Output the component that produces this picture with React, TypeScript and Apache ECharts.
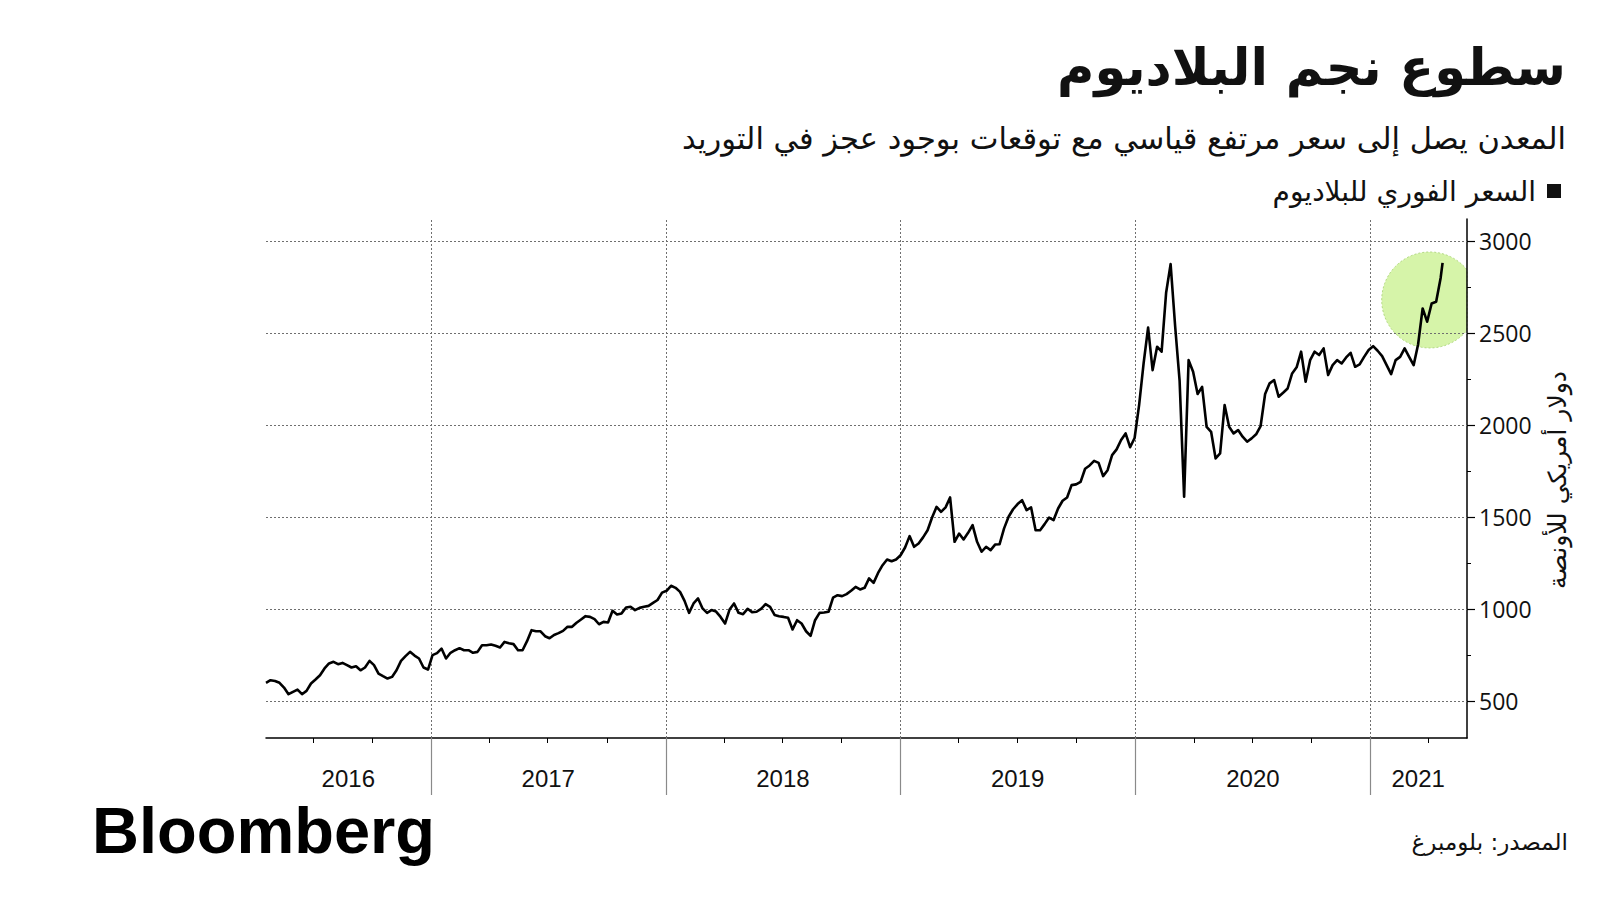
import React, { useEffect, useRef } from 'react';
import * as echarts from 'echarts';

// ---------- DATA (palladium spot price, USD/oz, weekly readings) ----------
const FIRST_WEEK = '2016-04-19';
const prices2016 = [600, 614, 610, 600, 574, 538, 551, 563, 538, 556, 596, 618, 641, 678, 705, 714, 701, 708, 696, 683, 690, 668, 683, 719, 696, 650, 636, 623, 632, 668, 719, 745, 768, 748, 732, 683, 672];
const prices2017 = [750, 761, 786, 732, 763, 777, 788, 777, 777, 763, 768, 804, 804, 808, 801, 792, 822, 815, 810, 777, 777, 826, 886, 880, 880, 853, 842, 860, 870, 882, 904, 904, 926, 944, 962, 958, 946, 918, 931, 928, 991, 971, 977, 1009, 1013, 995, 1007, 1013, 1018, 1034, 1050, 1090];
const prices2018 = [1100, 1127, 1116, 1094, 1045, 980, 1031, 1058, 1004, 980, 995, 987, 958, 922, 998, 1031, 980, 973, 1002, 984, 986, 1002, 1027, 1013, 969, 962, 958, 953, 890, 940, 922, 880, 855, 940, 980, 982, 986, 1063, 1076, 1071, 1082, 1100, 1121, 1107, 1116, 1167, 1143, 1197, 1239, 1270, 1260, 1270];
const prices2019 = [1293, 1335, 1397, 1339, 1357, 1390, 1429, 1498, 1556, 1529, 1553, 1607, 1366, 1411, 1379, 1415, 1457, 1366, 1312, 1339, 1321, 1351, 1353, 1439, 1502, 1543, 1571, 1592, 1538, 1553, 1429, 1429, 1462, 1498, 1484, 1547, 1589, 1607, 1674, 1678, 1692, 1763, 1781, 1806, 1795, 1723, 1755, 1837, 1868, 1919, 1955, 1880, 1930];
const prices2020 = [2109, 2335, 2530, 2299, 2426, 2399, 2719, 2875, 2540, 2240, 1611, 2353, 2290, 2169, 2208, 1991, 1964, 1819, 1846, 2109, 1991, 1955, 1973, 1937, 1910, 1928, 1950, 1995, 2169, 2227, 2245, 2154, 2176, 2199, 2281, 2314, 2399, 2236, 2353, 2399, 2381, 2417, 2272, 2326, 2353, 2335, 2368, 2393, 2317, 2330, 2371, 2408];
const prices2021 = [2429, 2404, 2375, 2326, 2277, 2353, 2371, 2417, 2371, 2326, 2440, 2634, 2562, 2661, 2670, 2800];
const LAST_DATE = '2021-04-23';
const LAST_PRICE = 2882;

// ---------- AXES ----------
const X_MIN = '2016-04-19';
const X_MAX = '2021-05-31';
const Y_MIN = 300;
const Y_MAX = 3120;
const Y_GRID = [500, 1000, 1500, 2000, 2500, 3000];
const Y_MINOR = [750, 1250, 1750, 2250, 2750];
const YEAR_STARTS = ['2017-01-01', '2018-01-01', '2019-01-01', '2020-01-01', '2021-01-01'];
const QUARTER_TICKS = ['2016-07-01', '2016-10-01', '2017-04-01', '2017-07-01', '2017-10-01', '2018-04-01', '2018-07-01', '2018-10-01', '2019-04-01', '2019-07-01', '2019-10-01', '2020-04-01', '2020-07-01', '2020-10-01', '2021-04-01'];
const YEAR_LABELS = ['2016', '2017', '2018', '2019', '2020', '2021'];
const YEAR_LABEL_AT = ['2016-08-25', '2017-07-02', '2018-07-02', '2019-07-02', '2020-07-02', '2021-03-16'];

// ---------- TEXTS ----------
const TITLE = 'سطوع نجم البلاديوم';
const SUBTITLE = 'المعدن يصل إلى سعر مرتفع قياسي مع توقعات بوجود عجز في التوريد';
const LEGEND = 'السعر الفوري للبلاديوم';
const Y_NAME = 'دولار أمريكي للأونصة';
const SOURCE = 'المصدر: بلومبرغ';
const LOGO = 'Bloomberg';

// highlight circle centre (data coords)
const HIGHLIGHT_DATE = '2021-04-03';
const HIGHLIGHT_VALUE = 2680;

const ts = (s: string) => {
  const [y, m, d] = s.split('-').map(Number);
  return new Date(y, m - 1, d).getTime();
};

const AR_FONT = "'DejaVu Sans', 'Noto Sans', sans-serif";
const NUM_FONT = "'Open Sans', 'Liberation Sans', sans-serif";
const YEAR_FONT = "'Liberation Sans', Arial, sans-serif";

export default function App() {
  const ref = useRef<HTMLDivElement>(null);

  useEffect(() => {
    const el = ref.current;
    if (!el) return;
    const chart = echarts.init(el, null, { renderer: 'svg' });

    const weekly = [...prices2016, ...prices2017, ...prices2018, ...prices2019, ...prices2020, ...prices2021];
    const start = ts(FIRST_WEEK);
    const data: [number, number][] = weekly.map((v, i) => {
      const d = new Date(start);
      d.setDate(d.getDate() + i * 7);
      return [d.getTime(), v];
    });
    data.push([ts(LAST_DATE), LAST_PRICE]);

    const xMin = ts(X_MIN);
    const xMax = ts(X_MAX);
    const gridStyle = { color: '#6f6f6f', width: 1, type: [2, 2] as any };

    const texts: any[] = [
      {
        type: 'text', x: 1566, y: 67, z: 10,
        style: { text: TITLE, align: 'right', verticalAlign: 'middle', font: `bold 51px ${AR_FONT}`, fill: '#111' },
      },
      {
        type: 'text', x: 1566, y: 138, z: 10,
        style: { text: SUBTITLE, align: 'right', verticalAlign: 'middle', font: `30.5px ${AR_FONT}`, fill: '#111' },
      },
      {
        type: 'rect', z: 10, shape: { x: 1547, y: 184, width: 14, height: 14 }, style: { fill: '#111' },
      },
      {
        type: 'text', x: 1536, y: 191, z: 10,
        style: { text: LEGEND, align: 'right', verticalAlign: 'middle', font: `28px ${AR_FONT}`, fill: '#111' },
      },
      {
        type: 'text', x: 1557, y: 480, rotation: Math.PI / 2, z: 10,
        style: { text: Y_NAME, align: 'center', verticalAlign: 'middle', font: `25px ${AR_FONT}`, fill: '#111' },
      },
      {
        type: 'text', x: 1568, y: 842, z: 10,
        style: { text: SOURCE, align: 'right', verticalAlign: 'middle', font: `23px ${AR_FONT}`, fill: '#111' },
      },
      {
        type: 'text', x: 92, y: 830, z: 10,
        style: {
          text: LOGO, align: 'left', verticalAlign: 'middle', lineHeight: 46,
          font: `bold 65px 'Liberation Sans', Arial, sans-serif`, fill: '#000',
        },
      },
    ];

    const baseX = { type: 'value', min: xMin, max: xMax, position: 'bottom', splitLine: { show: false } };

    const option: any = {
      animation: false,
      backgroundColor: '#fff',
      grid: { left: 266, top: 219, width: 1201, height: 519, containLabel: false },
      xAxis: [
        {
          ...baseX,
          axisLine: { show: true, lineStyle: { color: '#000', width: 1.5 } },
          axisTick: { show: true, customValues: YEAR_STARTS.map(ts), length: 57, lineStyle: { color: '#8a8a8a', width: 1.2 } },
          axisLabel: { show: false },
        },
        {
          ...baseX,
          axisLine: { show: false },
          axisTick: { show: true, customValues: QUARTER_TICKS.map(ts), length: 5, lineStyle: { color: '#000', width: 1 } },
          axisLabel: { show: false },
        },
      ],
      yAxis: [
        {
          type: 'value', min: Y_MIN, max: Y_MAX, position: 'right',
          axisLine: { show: true, lineStyle: { color: '#000', width: 1.5 } },
          axisTick: { show: true, customValues: Y_GRID, length: 8, lineStyle: { color: '#000', width: 1.2 } },
          axisLabel: {
            show: true, customValues: Y_GRID, margin: 12, fontSize: 23, fontFamily: NUM_FONT, color: '#111',
            formatter: (v: number) => String(v),
          },
          splitLine: { show: false },
        },
        {
          type: 'value', min: Y_MIN, max: Y_MAX, position: 'right',
          axisLine: { show: false },
          axisTick: { show: true, customValues: Y_MINOR, length: 4, lineStyle: { color: '#000', width: 1 } },
          axisLabel: { show: false },
          splitLine: { show: false },
        },
      ],
      series: [
        {
          type: 'line', xAxisIndex: 0, yAxisIndex: 0, data, z: 3,
          showSymbol: false, symbol: 'none',
          lineStyle: { color: '#000', width: 2.6, join: 'round' },
          markLine: {
            silent: true, symbol: 'none', z: 1, animation: false,
            label: { show: false },
            lineStyle: gridStyle,
            data: [
              ...Y_GRID.map((v) => ({ yAxis: v })),
              ...YEAR_STARTS.map((d) => ({ xAxis: ts(d) })),
            ],
          },
        },
      ],
      graphic: texts,
    };

    chart.setOption(option);

    const toPx = (d: number, v: number) => chart.convertToPixel({ seriesIndex: 0 }, [d, v]) as number[];
    const axisBottom = toPx(xMin, Y_MIN)[1];

    // year labels placed through the x scale
    const yearTexts = YEAR_LABELS.map((label, i) => ({
      type: 'text', z: 10,
      x: toPx(ts(YEAR_LABEL_AT[i]), Y_MIN)[0], y: axisBottom + 40,
      style: { text: label, align: 'center', verticalAlign: 'middle', font: `24px ${YEAR_FONT}`, fill: '#111' },
    }));

    // highlight circle positioned through the chart's own scales
    const c = toPx(ts(HIGHLIGHT_DATE), HIGHLIGHT_VALUE);
    const rightEdge = toPx(xMax, Y_MIN)[0];
    const r = 48;
    const pts: number[][] = [];
    for (let a = 0; a < 360; a += 4) {
      const rad = (a * Math.PI) / 180;
      pts.push([Math.min(c[0] + r * Math.cos(rad), rightEdge), c[1] + r * Math.sin(rad)]);
    }
    chart.setOption({
      graphic: [
        ...texts,
        ...yearTexts,
        {
          type: 'polygon', z: 0, silent: true,
          shape: { points: pts },
          style: { fill: 'rgba(200,240,140,0.75)', stroke: '#b4da85', lineWidth: 1, lineDash: [2, 2] },
        },
      ],
    });

    return () => chart.dispose();
  }, []);

  return (
    <div
      ref={ref}
      style={{ position: 'absolute', left: 0, top: 0, width: 1600, height: 900, background: '#fff' }}
    />
  );
}
